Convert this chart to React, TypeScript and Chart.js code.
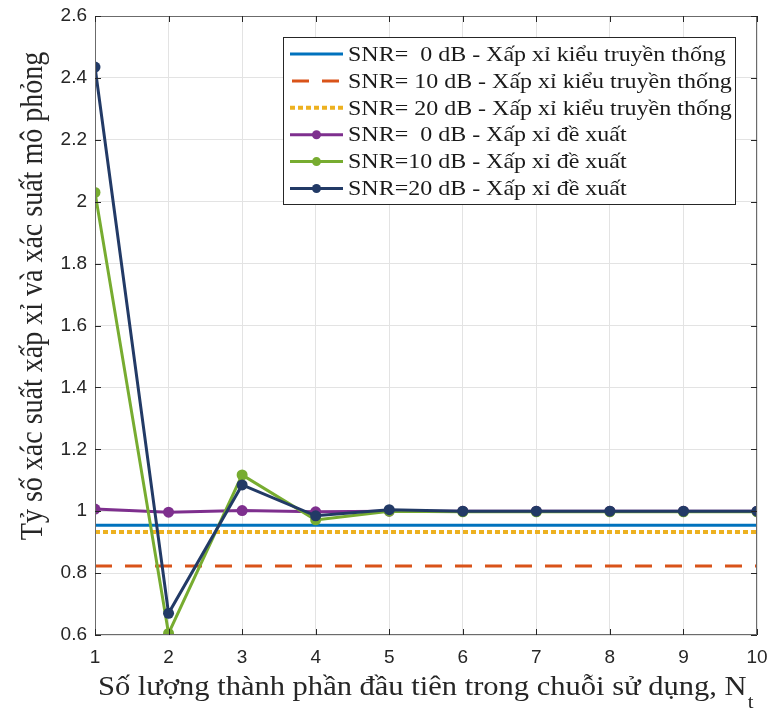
import React, { useEffect, useRef } from "react";
import { Chart, registerables } from "chart.js";

Chart.register(...registerables);

const nt = [1, 2, 3, 4, 5, 6, 7, 8, 9, 10];
const trad0 = [0.955, 0.955, 0.955, 0.955, 0.955, 0.955, 0.955, 0.955, 0.955, 0.955];
const trad10 = [0.823, 0.823, 0.823, 0.823, 0.823, 0.823, 0.823, 0.823, 0.823, 0.823];
const trad20 = [0.933, 0.933, 0.933, 0.933, 0.933, 0.933, 0.933, 0.933, 0.933, 0.933];
const prop0 = [1.007, 0.997, 1.002, 0.998, 1.0, 1.0, 1.0, 1.0, 1.0, 1.0];
const prop10 = [2.03, 0.605, 1.117, 0.972, 1.0, 0.998, 0.998, 0.998, 0.998, 0.998];
const prop20 = [2.435, 0.67, 1.085, 0.985, 1.005, 1.0, 1.0, 1.0, 1.0, 1.0];
const yTicks = [0.6, 0.8, 1.0, 1.2, 1.4, 1.6, 1.8, 2.0, 2.2, 2.4, 2.6];

const legendLabels = [
  "SNR=  0 dB - Xấp xỉ kiểu truyền thống",
  "SNR= 10 dB - Xấp xỉ kiểu truyền thống",
  "SNR= 20 dB - Xấp xỉ kiểu truyền thống",
  "SNR=  0 dB - Xấp xỉ đề xuất",
  "SNR=10 dB - Xấp xỉ đề xuất",
  "SNR=20 dB - Xấp xỉ đề xuất",
];
const yTitle = "Tỷ số xác suất xấp xỉ và xác suất mô phỏng";
const xTitle = "Số lượng thành phần đầu tiên trong chuỗi sử dụng, N";
const xTitleSub = "t";

const C_BLUE = "#0072BD";
const C_ORANGE = "#D95319";
const C_YELLOW = "#EDB120";
const C_PURPLE = "#7E2F8E";
const C_GREEN = "#77AC30";
const C_NAVY = "#223A66";

const pts = (arr: number[]) => nt.map((x, i) => ({ x, y: arr[i] }));

const serif = '"Liberation Serif", "Times New Roman", serif';
const sans = '"Liberation Sans", Arial, sans-serif';
const STRETCH = 1.09;

const decorPlugin = {
  id: "decor",
  afterDraw(chart: any) {
    const ctx = chart.ctx;
    const a = chart.chartArea;
    const xs = chart.scales.x;
    const ys = chart.scales.y;
    ctx.save();
    // box
    ctx.strokeStyle = "#6b6b6b";
    ctx.lineWidth = 1;
    ctx.strokeRect(a.left + 0.5, a.top + 0.5, a.right - a.left - 1, a.bottom - a.top - 1);
    // inward ticks
    ctx.strokeStyle = "#262626";
    ctx.beginPath();
    nt.forEach((v) => {
      const px = Math.round(xs.getPixelForValue(v)) + 0.5;
      ctx.moveTo(px, a.bottom);
      ctx.lineTo(px, a.bottom - 6);
      ctx.moveTo(px, a.top);
      ctx.lineTo(px, a.top + 6);
    });
    yTicks.forEach((v) => {
      const py = Math.round(ys.getPixelForValue(v)) + 0.5;
      ctx.moveTo(a.left, py);
      ctx.lineTo(a.left + 6, py);
      ctx.moveTo(a.right, py);
      ctx.lineTo(a.right - 6, py);
    });
    ctx.stroke();

    // y title
    ctx.fillStyle = "#262626";
    ctx.font = `28px ${serif}`;
    ctx.textAlign = "center";
    ctx.textBaseline = "alphabetic";
    ctx.save();
    ctx.translate(42, 296);
    ctx.rotate(-Math.PI / 2);
    ctx.scale(1, STRETCH);
    ctx.fillText(yTitle, 0, 0);
    ctx.restore();

    // x title with subscript
    ctx.save();
    ctx.translate(98, 0);
    ctx.scale(STRETCH, 1);
    ctx.textAlign = "left";
    ctx.font = `28px ${serif}`;
    const w1 = ctx.measureText(xTitle).width;
    ctx.fillText(xTitle, 0, 695);
    ctx.font = `19px ${serif}`;
    ctx.fillText(xTitleSub, w1 + 1, 708);
    ctx.restore();

    // legend
    const bx = 283, by = 37, bw = 452, bh = 167;
    ctx.fillStyle = "#ffffff";
    ctx.fillRect(bx, by, bw, bh);
    ctx.strokeStyle = "#262626";
    ctx.lineWidth = 1;
    ctx.strokeRect(bx + 0.5, by + 0.5, bw, bh);
    const styles = [
      { c: C_BLUE, dash: [] as number[], w: 3, m: false },
      { c: C_ORANGE, dash: [17, 13], w: 3, m: false },
      { c: C_YELLOW, dash: [5, 3], w: 4, m: false },
      { c: C_PURPLE, dash: [], w: 3, m: true },
      { c: C_GREEN, dash: [], w: 3, m: true },
      { c: C_NAVY, dash: [], w: 3, m: true },
    ];
    const x0 = 290, x1 = 343;
    styles.forEach((s, i) => {
      const y = 54 + i * 26.9;
      ctx.strokeStyle = s.c;
      ctx.lineWidth = s.w;
      ctx.setLineDash(s.dash);
      ctx.lineDashOffset = s.dash.length && s.dash[0] > 10 ? -2 : 0;
      ctx.beginPath();
      ctx.moveTo(x0, y);
      ctx.lineTo(x1, y);
      ctx.stroke();
      ctx.setLineDash([]);
      if (s.m) {
        ctx.fillStyle = s.c;
        ctx.beginPath();
        ctx.arc((x0 + x1) / 2, y, 4.5, 0, Math.PI * 2);
        ctx.fill();
      }
      ctx.save();
      ctx.translate(348, y + 1);
      ctx.scale(STRETCH, 1);
      ctx.fillStyle = "#1a1a1a";
      ctx.font = `22px ${serif}`;
      ctx.textAlign = "left";
      ctx.textBaseline = "middle";
      ctx.fillText(legendLabels[i], 0, 0);
      ctx.restore();
    });
    ctx.restore();
  },
};

export default function App() {
  const ref = useRef<HTMLCanvasElement | null>(null);
  useEffect(() => {
    document.body.style.margin = "0";
    if (!ref.current) return;
    const lineDs = (label: string, data: number[], color: string, dash: number[], width: number, order: number) => ({
      label,
      data: pts(data),
      borderColor: color,
      backgroundColor: color,
      borderWidth: width,
      borderDash: dash,
      pointRadius: 0,
      tension: 0,
      order,
    });
    const markDs = (label: string, data: number[], color: string, order: number) => ({
      label,
      data: pts(data),
      borderColor: color,
      backgroundColor: color,
      borderWidth: 3,
      pointRadius: 5.5,
      pointBorderWidth: 0,
      pointBackgroundColor: color,
      tension: 0,
      order,
    });
    const chart = new Chart(ref.current, {
      type: "line",
      data: {
        datasets: [
          lineDs(legendLabels[0], trad0, C_BLUE, [], 3, 6),
          lineDs(legendLabels[1], trad10, C_ORANGE, [17, 13], 3, 5),
          lineDs(legendLabels[2], trad20, C_YELLOW, [5, 3], 4, 4),
          markDs(legendLabels[3], prop0, C_PURPLE, 3),
          markDs(legendLabels[4], prop10, C_GREEN, 2),
          markDs(legendLabels[5], prop20, C_NAVY, 1),
        ],
      },
      options: {
        animation: false,
        responsive: false,
        maintainAspectRatio: false,
        layout: { padding: { top: 16, right: 11, left: 0, bottom: 0 } },
        plugins: { legend: { display: false }, tooltip: { enabled: false } },
        scales: {
          x: {
            type: "linear",
            min: 1,
            max: 10,
            afterBuildTicks: (s: any) => {
              s.ticks = nt.map((v) => ({ value: v }));
            },
            afterFit: (s: any) => {
              s.height = 79;
              s.paddingLeft = 0;
              s.paddingRight = 0;
            },
            grid: { color: "#e3e3e3", drawTicks: false, lineWidth: 1 },
            border: { display: false },
            ticks: {
              padding: 11,
              color: "#262626",
              font: { family: sans, size: 19 },
              callback: (v: any) => String(v),
            },
          },
          y: {
            type: "linear",
            min: 0.6,
            max: 2.6,
            afterBuildTicks: (s: any) => {
              s.ticks = yTicks.map((v) => ({ value: v }));
            },
            afterFit: (s: any) => {
              s.width = 95;
              s.paddingTop = 0;
              s.paddingBottom = 0;
            },
            grid: { color: "#e3e3e3", drawTicks: false, lineWidth: 1 },
            border: { display: false },
            ticks: {
              padding: 8,
              color: "#262626",
              font: { family: sans, size: 19 },
              callback: (v: any) => {
                const s = Number(v).toFixed(1);
                return s.endsWith(".0") ? s.slice(0, -2) : s;
              },
            },
          },
        },
      },
      plugins: [decorPlugin],
    } as any);
    return () => chart.destroy();
  }, []);
  return (
    <div style={{ position: "absolute", left: 0, top: 0, width: 768, height: 714, background: "#fff" }}>
      <canvas ref={ref} width={768} height={714} style={{ display: "block", width: 768, height: 714 }} />
    </div>
  );
}
